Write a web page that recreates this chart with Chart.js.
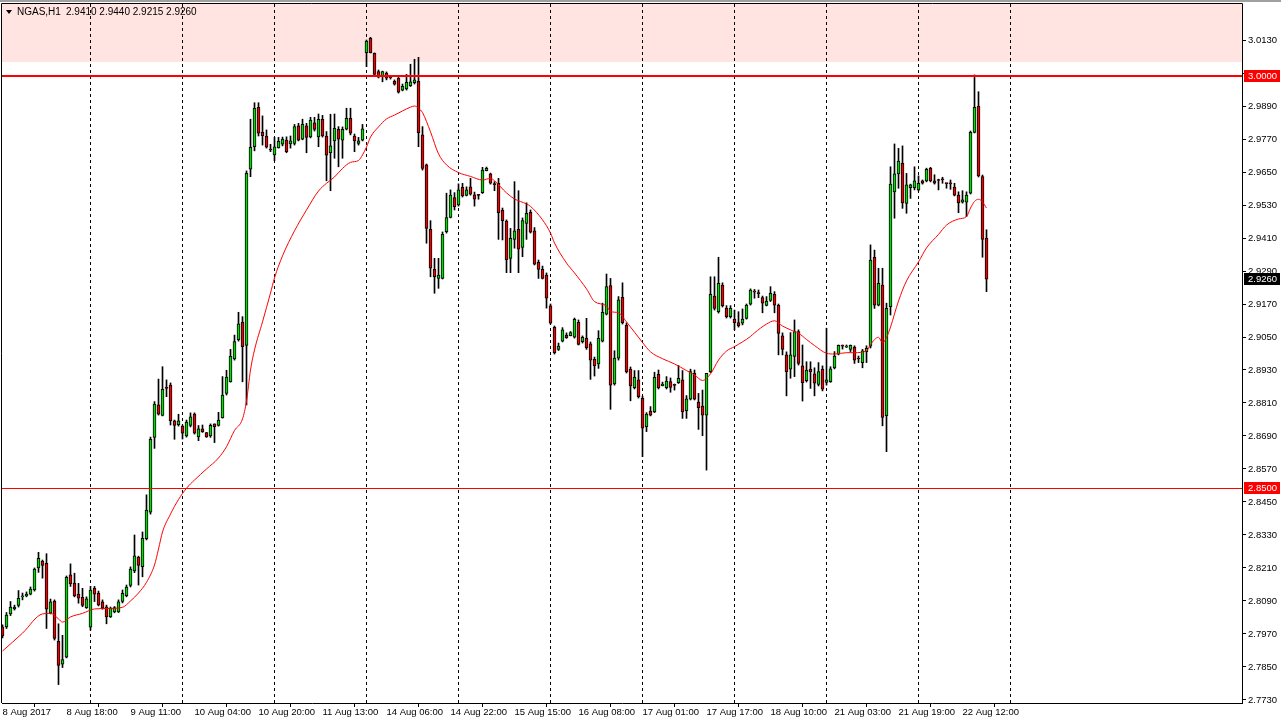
<!DOCTYPE html>
<html>
<head>
<meta charset="utf-8">
<title>NGAS,H1</title>
<script src="https://cdn.jsdelivr.net/npm/chart.js@4.4.0/dist/chart.umd.min.js"></script>
<style>
  html, body { margin: 0; padding: 0; background: #fff; overflow: hidden; }
  #wrap { position: relative; width: 1281px; height: 723px; }
</style>
</head>
<body>
<div id="wrap"><canvas id="chart" width="1281" height="723"></canvas></div>
<script>
// NGAS H1 candles (bar 0 = 8 Aug 2017)
const opens = [
  2.7996, 2.7996, 2.8043, 2.8061, 2.8074, 2.8105, 2.8108, 2.8115, 2.8130, 2.8210,
  2.8235, 2.8227, 2.8046, 2.8090, 2.7943, 2.7860, 2.7886, 2.8185, 2.8155, 2.8115,
  2.8103, 2.8066, 2.7995, 2.8136, 2.8119, 2.8087, 2.8069, 2.8032, 2.8050, 2.8050,
  2.8088, 2.8109, 2.8147, 2.8199, 2.8249, 2.8215, 2.8317, 2.8413, 2.8685, 2.8803,
  2.8765, 2.8865, 2.8875, 2.8745, 2.8731, 2.8726, 2.8690, 2.8728, 2.8770, 2.8687,
  2.8716, 2.8702, 2.8690, 2.8734, 2.8728, 2.8756, 2.8845, 2.8887, 2.8970, 2.9040,
  2.9104, 2.9019, 2.9660, 2.9742, 2.9885, 2.9794, 2.9781, 2.9733, 2.9712, 2.9738,
  2.9751, 2.9766, 2.9752, 2.9754, 2.9818, 2.9769, 2.9818, 2.9778, 2.9829, 2.9778,
  2.9842, 2.9781, 2.9720, 2.9763, 2.9805, 2.9766, 2.9806, 2.9845, 2.9781, 2.9754,
  2.9766, 3.0084, 3.0136, 3.0082, 3.0015, 2.9997, 3.0010, 2.9995, 2.9980, 2.9991,
  2.9948, 2.9952, 2.9964, 2.9975, 2.9980, 2.9785, 2.9676, 2.9442, 2.9296, 2.9263,
  2.9263, 2.9433, 2.9485, 2.9557, 2.9530, 2.9594, 2.9565, 2.9596, 2.9567, 2.9566,
  2.9575, 2.9655, 2.9643, 2.9608, 2.9609, 2.9512, 2.9472, 2.9336, 2.9405, 2.9442,
  2.9376, 2.9463, 2.9503, 2.9436, 2.9322, 2.9296, 2.9275, 2.9163, 2.9085, 2.9005,
  2.9035, 2.9057, 2.9055, 2.9049, 2.9103, 2.9033, 2.9045, 2.9025, 2.8969, 2.8952,
  2.9035, 2.9133, 2.9237, 2.8879, 2.8973, 2.9194, 2.9092, 2.8933, 2.8866, 2.8894,
  2.8827, 2.8724, 2.8781, 2.8778, 2.8914, 2.8873, 2.8866, 2.8888, 2.8877, 2.8884,
  2.8894, 2.8782, 2.8824, 2.8918, 2.8813, 2.8799, 2.8766, 2.8924, 2.9199, 2.9142,
  2.9239, 2.9154, 2.9124, 2.9115, 2.9102, 2.9100, 2.9118, 2.9169, 2.9215, 2.9210,
  2.9193, 2.9165, 2.9183, 2.9205, 2.9165, 2.9054, 2.8985, 2.8933, 2.8979, 2.9070,
  2.8945, 2.8891, 2.8933, 2.8916, 2.8878, 2.8933, 2.8885, 2.8888, 2.8938, 2.8988,
  2.9019, 2.9013, 2.9005, 2.9013, 2.8972, 2.8957, 2.8997, 2.9017, 2.9340, 2.9166,
  2.9239, 2.8764, 2.9160, 2.9578, 2.9643, 2.9682, 2.9536, 2.9593, 2.9593, 2.9585,
  2.9618, 2.9618, 2.9663, 2.9618, 2.9621, 2.9624, 2.9609, 2.9609, 2.9595, 2.9566,
  2.9540, 2.9540, 2.9573, 2.9794, 2.9890, 2.9633, 2.9410
];
const highs = [
  2.8003, 2.8048, 2.8088, 2.8075, 2.8128, 2.8119, 2.8123, 2.8141, 2.8210, 2.8267,
  2.8239, 2.8262, 2.8097, 2.8094, 2.8007, 2.7965, 2.8181, 2.8225, 2.8191, 2.8154,
  2.8136, 2.8105, 2.8143, 2.8143, 2.8126, 2.8094, 2.8075, 2.8068, 2.8070, 2.8094,
  2.8130, 2.8148, 2.8214, 2.8330, 2.8253, 2.8341, 2.8476, 2.8686, 2.8815, 2.8897,
  2.8942, 2.8894, 2.8883, 2.8748, 2.8769, 2.8730, 2.8748, 2.8774, 2.8774, 2.8728,
  2.8730, 2.8703, 2.8734, 2.8734, 2.8776, 2.8906, 2.8929, 2.9005, 2.9057, 2.9140,
  2.9124, 2.9654, 2.9842, 2.9902, 2.9902, 2.9854, 2.9803, 2.9751, 2.9776, 2.9776,
  2.9777, 2.9778, 2.9781, 2.9823, 2.9827, 2.9842, 2.9827, 2.9849, 2.9849, 2.9861,
  2.9856, 2.9797, 2.9860, 2.9861, 2.9815, 2.9814, 2.9882, 2.9882, 2.9788, 2.9776,
  2.9823, 3.0130, 3.0140, 3.0083, 3.0021, 3.0017, 3.0014, 3.0000, 2.9985, 2.9996,
  2.9970, 3.0005, 3.0042, 3.0060, 3.0067, 2.9815, 2.9679, 2.9473, 2.9336, 2.9336,
  2.9432, 2.9573, 2.9585, 2.9575, 2.9607, 2.9609, 2.9596, 2.9627, 2.9577, 2.9569,
  2.9667, 2.9668, 2.9646, 2.9615, 2.9627, 2.9519, 2.9476, 2.9445, 2.9615, 2.9582,
  2.9483, 2.9538, 2.9512, 2.9448, 2.9330, 2.9308, 2.9283, 2.9170, 2.9090, 2.9028,
  2.9084, 2.9065, 2.9070, 2.9119, 2.9112, 2.9054, 2.9118, 2.9032, 2.8977, 2.9073,
  2.9173, 2.9279, 2.9263, 2.9000, 2.9197, 2.9247, 2.9101, 2.8941, 2.8928, 2.8928,
  2.8835, 2.8775, 2.8797, 2.8922, 2.8930, 2.8886, 2.8906, 2.8901, 2.8879, 2.8946,
  2.8928, 2.8837, 2.8933, 2.8930, 2.8845, 2.8857, 2.8918, 2.9269, 2.9269, 2.9340,
  2.9247, 2.9164, 2.9164, 2.9148, 2.9142, 2.9152, 2.9170, 2.9225, 2.9223, 2.9221,
  2.9199, 2.9197, 2.9233, 2.9215, 2.9170, 2.9065, 2.8996, 2.9066, 2.9112, 2.9076,
  2.9021, 2.8960, 2.8960, 2.8938, 2.8957, 2.8945, 2.9082, 2.8942, 2.8997, 2.9021,
  2.9021, 2.9021, 2.9021, 2.9018, 2.8981, 2.9005, 2.9018, 2.9385, 2.9366, 2.9300,
  2.9300, 2.9173, 2.9669, 2.9752, 2.9736, 2.9745, 2.9645, 2.9606, 2.9669, 2.9636,
  2.9621, 2.9664, 2.9667, 2.9640, 2.9624, 2.9631, 2.9609, 2.9621, 2.9609, 2.9578,
  2.9582, 2.9578, 2.9799, 3.0003, 2.9942, 2.9639, 2.9440
];
const lows = [
  2.7956, 2.7990, 2.8037, 2.8057, 2.8068, 2.8094, 2.8105, 2.8112, 2.8126, 2.8194,
  2.8173, 2.7990, 2.8043, 2.7948, 2.7786, 2.7848, 2.7883, 2.8143, 2.8105, 2.8082,
  2.8069, 2.8063, 2.7984, 2.8088, 2.8072, 2.8060, 2.8007, 2.8030, 2.8047, 2.8048,
  2.8083, 2.8105, 2.8141, 2.8193, 2.8148, 2.8178, 2.8312, 2.8406, 2.8645, 2.8766,
  2.8763, 2.8833, 2.8730, 2.8678, 2.8726, 2.8679, 2.8686, 2.8723, 2.8697, 2.8673,
  2.8703, 2.8685, 2.8685, 2.8666, 2.8726, 2.8755, 2.8839, 2.8886, 2.8966, 2.9035,
  2.8887, 2.8803, 2.9633, 2.9727, 2.9781, 2.9748, 2.9737, 2.9724, 2.9691, 2.9737,
  2.9745, 2.9720, 2.9737, 2.9748, 2.9763, 2.9767, 2.9720, 2.9774, 2.9799, 2.9742,
  2.9777, 2.9618, 2.9582, 2.9700, 2.9669, 2.9700, 2.9803, 2.9785, 2.9724, 2.9748,
  2.9763, 3.0033, 3.0083, 3.0003, 2.9992, 2.9978, 2.9985, 2.9988, 2.9966, 2.9937,
  2.9945, 2.9948, 2.9961, 2.9970, 2.9742, 2.9657, 2.9391, 2.9269, 2.9209, 2.9227,
  2.9261, 2.9428, 2.9483, 2.9512, 2.9526, 2.9559, 2.9563, 2.9566, 2.9526, 2.9551,
  2.9572, 2.9654, 2.9606, 2.9582, 2.9405, 2.9403, 2.9284, 2.9284, 2.9373, 2.9284,
  2.9342, 2.9405, 2.9428, 2.9312, 2.9263, 2.9261, 2.9155, 2.9097, 2.8988, 2.9001,
  2.9032, 2.9045, 2.9054, 2.9046, 2.9021, 2.9028, 2.9005, 2.8896, 2.8908, 2.8936,
  2.9032, 2.9130, 2.8787, 2.8875, 2.8966, 2.9097, 2.8919, 2.8818, 2.8861, 2.8828,
  2.8615, 2.8706, 2.8763, 2.8775, 2.8861, 2.8872, 2.8861, 2.8849, 2.8857, 2.8881,
  2.8754, 2.8754, 2.8821, 2.8821, 2.8714, 2.8691, 2.8566, 2.8921, 2.9148, 2.9137,
  2.9159, 2.9119, 2.9119, 2.9076, 2.9086, 2.9094, 2.9115, 2.9166, 2.9191, 2.9193,
  2.9138, 2.9163, 2.9179, 2.9138, 2.8985, 2.8985, 2.8836, 2.8900, 2.8906, 2.8948,
  2.8817, 2.8886, 2.8863, 2.8836, 2.8872, 2.8854, 2.8875, 2.8885, 2.8934, 2.8985,
  2.9006, 2.9012, 2.8997, 2.8954, 2.8957, 2.8938, 2.8957, 2.9010, 2.9154, 2.9163,
  2.8727, 2.8633, 2.9130, 2.9482, 2.9591, 2.9518, 2.9500, 2.9554, 2.9585, 2.9581,
  2.9606, 2.9614, 2.9614, 2.9606, 2.9585, 2.9609, 2.9591, 2.9587, 2.9563, 2.9502,
  2.9537, 2.9488, 2.9570, 2.9792, 2.9632, 2.9340, 2.9215
];
const closes = [
  2.7963, 2.8039, 2.8068, 2.8068, 2.8100, 2.8108, 2.8115, 2.8133, 2.8206, 2.8245,
  2.8219, 2.8060, 2.8087, 2.7954, 2.7856, 2.7877, 2.8176, 2.8152, 2.8108, 2.8100,
  2.8074, 2.8098, 2.8130, 2.8115, 2.8076, 2.8064, 2.8032, 2.8064, 2.8066, 2.8087,
  2.8118, 2.8141, 2.8206, 2.8254, 2.8219, 2.8318, 2.8421, 2.8678, 2.8806, 2.8769,
  2.8860, 2.8863, 2.8746, 2.8728, 2.8745, 2.8700, 2.8741, 2.8760, 2.8700, 2.8716,
  2.8706, 2.8687, 2.8729, 2.8724, 2.8748, 2.8839, 2.8904, 2.8980, 2.9033, 2.9098,
  2.9015, 2.9645, 2.9740, 2.9882, 2.9791, 2.9782, 2.9740, 2.9730, 2.9742, 2.9762,
  2.9770, 2.9724, 2.9763, 2.9815, 2.9766, 2.9823, 2.9776, 2.9839, 2.9805, 2.9842,
  2.9781, 2.9711, 2.9745, 2.9809, 2.9769, 2.9805, 2.9845, 2.9791, 2.9763, 2.9763,
  2.9807, 3.0126, 3.0084, 3.0005, 2.9995, 3.0015, 2.9991, 2.9993, 2.9969, 2.9940,
  2.9962, 2.9976, 2.9978, 2.9985, 2.9793, 2.9663, 2.9445, 2.9300, 2.9269, 2.9275,
  2.9423, 2.9484, 2.9566, 2.9524, 2.9585, 2.9563, 2.9585, 2.9569, 2.9551, 2.9565,
  2.9657, 2.9663, 2.9609, 2.9604, 2.9502, 2.9473, 2.9330, 2.9409, 2.9436, 2.9369,
  2.9473, 2.9500, 2.9431, 2.9315, 2.9296, 2.9263, 2.9191, 2.9100, 2.8993, 2.9017,
  2.9076, 2.9048, 2.9066, 2.9114, 2.9023, 2.9049, 2.9011, 2.8966, 2.8945, 2.9045,
  2.9140, 2.9233, 2.8875, 2.8973, 2.9185, 2.9102, 2.8924, 2.8872, 2.8904, 2.8833,
  2.8718, 2.8770, 2.8766, 2.8903, 2.8866, 2.8879, 2.8890, 2.8867, 2.8874, 2.8900,
  2.8778, 2.8825, 2.8924, 2.8824, 2.8793, 2.8766, 2.8918, 2.9205, 2.9154, 2.9245,
  2.9164, 2.9124, 2.9154, 2.9102, 2.9091, 2.9115, 2.9166, 2.9221, 2.9213, 2.9208,
  2.9173, 2.9181, 2.9209, 2.9166, 2.9063, 2.9005, 2.8924, 2.8985, 2.9070, 2.8954,
  2.8884, 2.8930, 2.8923, 2.8882, 2.8924, 2.8860, 2.8894, 2.8934, 2.8981, 2.9020,
  2.9017, 2.9014, 2.9020, 2.8966, 2.8970, 2.9000, 2.9009, 2.9330, 2.9166, 2.9245,
  2.8758, 2.9154, 2.9606, 2.9643, 2.9690, 2.9538, 2.9603, 2.9603, 2.9618, 2.9609,
  2.9609, 2.9660, 2.9618, 2.9609, 2.9619, 2.9622, 2.9608, 2.9607, 2.9566, 2.9538,
  2.9549, 2.9566, 2.9794, 2.9885, 2.9636, 2.9405, 2.9260
];

// moving average line at these bars
const maBars = [
  0, 5, 10, 12, 14, 15, 17, 20, 23, 27, 30, 32, 34, 36, 38, 39, 40, 42, 44, 46,
  48, 51, 54, 56, 58, 60, 61, 62, 63, 65, 67, 68, 70, 73, 76, 79, 81, 83, 85, 87,
  89, 90, 91, 92, 94, 96, 98, 100, 102, 103, 104, 105, 107, 109, 111, 114, 117, 120, 122, 123,
  126, 128, 131, 132, 135, 137, 138, 141, 143, 146, 148, 151, 152, 154, 156, 160, 162, 165, 168, 171,
  173, 175, 177, 179, 181, 183, 187, 188, 191, 193, 195, 197, 199, 201, 203, 206, 208, 211, 213, 216,
  217, 219, 220, 221, 222, 224, 226, 229, 231, 234, 236, 239, 241, 242, 243, 244, 245, 246
];
const maValues = [
  2.7908, 2.7973, 2.8043, 2.8045, 2.8025, 2.8013, 2.8032, 2.8045, 2.8061, 2.8063,
  2.8067, 2.8090, 2.8119, 2.8158, 2.8221, 2.8279, 2.8341, 2.8406, 2.8459, 2.8500,
  2.8530, 2.8570, 2.8610, 2.8651, 2.8710, 2.8752, 2.8817, 2.8930, 2.9003, 2.9105,
  2.9210, 2.9265, 2.9345, 2.9436, 2.9512, 2.9581, 2.9609, 2.9632, 2.9663, 2.9685,
  2.9692, 2.9712, 2.9741, 2.9777, 2.9814, 2.9843, 2.9857, 2.9872, 2.9886, 2.9890,
  2.9882, 2.9866, 2.9796, 2.9716, 2.9676, 2.9648, 2.9634, 2.9621, 2.9627, 2.9618,
  2.9574, 2.9552, 2.9534, 2.9525, 2.9476, 2.9428, 2.9392, 2.9319, 2.9283, 2.9225,
  2.9179, 2.9163, 2.9143, 2.9138, 2.9105, 2.9030, 2.8996, 2.8971, 2.8952, 2.8928,
  2.8912, 2.8892, 2.8916, 2.8966, 2.8999, 2.9015, 2.9052, 2.9065, 2.9097, 2.9109,
  2.9090, 2.9076, 2.9064, 2.9041, 2.9019, 2.8991, 2.8988, 2.8993, 2.8993, 2.8999,
  2.9023, 2.9049, 2.9029, 2.9048, 2.9086, 2.9181, 2.9254, 2.9323, 2.9374, 2.9423,
  2.9457, 2.9479, 2.9488, 2.9519, 2.9543, 2.9551, 2.9541, 2.9519
];

// time axis labels every 16 bars, day separators every 23 bars
const tickBars = [0, 16, 32, 48, 64, 80, 96, 112, 128, 144, 160, 176, 192, 208, 224, 240];
const tickLabels = [
  "8 Aug 2017", "8 Aug 18:00", "9 Aug 11:00", "10 Aug 04:00", "10 Aug 20:00", "11 Aug 13:00",
  "14 Aug 06:00", "14 Aug 22:00", "15 Aug 15:00", "16 Aug 08:00", "17 Aug 01:00", "17 Aug 17:00",
  "18 Aug 10:00", "21 Aug 03:00", "21 Aug 19:00", "22 Aug 12:00"
];
const separatorBars = [22, 45, 68, 91, 114, 137, 160, 183, 206, 229, 252];

const priceTicks = [
  2.7730, 2.7850, 2.7970, 2.8090, 2.8210, 2.8330, 2.8450, 2.8570, 2.8690, 2.8810,
  2.8930, 2.9050, 2.9170, 2.9290, 2.9410, 2.9530, 2.9650, 2.9770, 2.9890, 3.0010, 3.0130
];
const zone = [3.0050, 3.0300];      // shaded band at the top
const levelHigh = 3.0000;
const levelLow = 2.8500;
const lastPrice = 2.9260;

const FONT = "'Liberation Sans', Arial, sans-serif";
const UP = '#00e000';
const DOWN = '#ee0000';

const bars = opens.map((_, i) => i);

const decor = {
  id: 'decor',
  beforeDatasetsDraw(chart) {
    const { ctx, chartArea: a, scales: { x, y } } = chart;
    ctx.save();
    const zt = Math.max(a.top, y.getPixelForValue(zone[1]));
    const zb = y.getPixelForValue(zone[0]);
    ctx.fillStyle = '#ffe4e1';
    ctx.fillRect(a.left, zt, a.right - a.left, zb - zt);
    ctx.strokeStyle = '#000';
    ctx.lineWidth = 1;
    ctx.setLineDash([3, 3]);
    separatorBars.forEach(b => {
      const px = Math.floor(x.getPixelForValue(b)) + 0.5;
      ctx.beginPath();
      ctx.moveTo(px, a.top);
      ctx.lineTo(px, a.bottom);
      ctx.stroke();
    });
    ctx.restore();
  },
  afterDatasetsDraw(chart) {
    const { ctx, chartArea: a, scales: { y } } = chart;
    ctx.save();
    ctx.strokeStyle = '#ff0000';
    ctx.lineWidth = 2;
    let py = Math.round(y.getPixelForValue(levelHigh));
    ctx.beginPath(); ctx.moveTo(a.left, py); ctx.lineTo(a.right, py); ctx.stroke();
    ctx.lineWidth = 1;
    py = Math.floor(y.getPixelForValue(levelLow)) + 0.5;
    ctx.beginPath(); ctx.moveTo(a.left, py); ctx.lineTo(a.right, py); ctx.stroke();
    ctx.restore();
  },
  afterDraw(chart) {
    const { ctx, chartArea: a, scales: { y } } = chart;
    ctx.save();
    // window edge and chart frame
    ctx.fillStyle = '#a0a0a0';
    ctx.fillRect(0, 0, chart.width, 2);
    ctx.strokeStyle = '#000';
    ctx.lineWidth = 1;
    ctx.beginPath();
    ctx.moveTo(1.5, a.bottom); ctx.lineTo(1.5, 3.5); ctx.lineTo(a.right + 0.5, 3.5); ctx.lineTo(a.right + 0.5, a.bottom);
    ctx.stroke();

    // price tags on the axis
    const tag = (v, bg) => {
      const py = Math.round(y.getPixelForValue(v));
      ctx.fillStyle = bg;
      ctx.fillRect(a.right + 2, py - 6, 36, 12);
      ctx.fillStyle = '#fff';
      ctx.font = '9.5px ' + FONT;
      ctx.textBaseline = 'middle';
      ctx.textAlign = 'left';
      ctx.fillText(v.toFixed(4), a.right + 6, py + 0.5);
    };
    tag(levelHigh, '#ff0000');
    tag(levelLow, '#ff0000');
    tag(lastPrice, '#000000');

    // header
    ctx.fillStyle = '#000';
    ctx.beginPath();
    ctx.moveTo(6, 10); ctx.lineTo(12, 10); ctx.lineTo(9, 14); ctx.closePath();
    ctx.fill();
    ctx.font = '10px ' + FONT;
    ctx.textBaseline = 'middle';
    ctx.textAlign = 'left';
    const n = opens.length - 1;
    ctx.fillText('NGAS,H1', 17, 12.5);
    ctx.fillText([opens[n], highs[n], lows[n], closes[n]].map(v => v.toFixed(4)).join(' '), 66, 12.5);
    ctx.restore();
  }
};

new Chart(document.getElementById('chart'), {
  type: 'bar',
  data: {
    datasets: [
      {
        type: 'line',
        label: 'MA',
        data: maBars.map((b, i) => ({ x: b, y: maValues[i] })),
        borderColor: '#ff0000',
        borderWidth: 1,
        pointRadius: 0,
        cubicInterpolationMode: 'monotone',
        order: 0
      },
      {
        label: 'body',
        data: bars.map(i => ({ x: i, y: [opens[i], closes[i]] })),
        backgroundColor: bars.map(i => closes[i] >= opens[i] ? UP : DOWN),
        borderColor: '#000',
        borderWidth: 1,
        borderSkipped: false,
        barThickness: 3,
        minBarLength: 1,
        grouped: false,
        order: 1
      },
      {
        label: 'wick',
        data: bars.map(i => ({ x: i, y: [lows[i], highs[i]] })),
        backgroundColor: '#000',
        barThickness: 1,
        grouped: false,
        order: 2
      }
    ]
  },
  options: {
    responsive: false,
    animation: false,
    layout: { padding: { left: 2, top: 4, right: 0, bottom: 0 } },
    plugins: { legend: { display: false }, tooltip: { enabled: false } },
    scales: {
      x: {
        type: 'linear',
        min: -0.125,
        max: 309.875,
        offset: false,
        afterBuildTicks: s => { s.ticks = tickBars.map(v => ({ value: v })); },
        afterFit: s => { s.height = 20; s.paddingLeft = 0; s.paddingRight = 0; },
        grid: { drawOnChartArea: false, drawTicks: true, tickLength: 4, color: '#000' },
        border: { display: true, color: '#000' },
        ticks: {
          autoSkip: false,
          maxRotation: 0,
          align: 'start',
          padding: 0,
          color: '#000',
          font: { family: FONT, size: 9.5 },
          callback: (v, i) => tickLabels[i]
        }
      },
      y: {
        position: 'right',
        min: 2.7719,
        max: 3.0261,
        afterBuildTicks: s => { s.ticks = priceTicks.map(v => ({ value: v })); },
        afterFit: s => { s.width = 39; s.paddingTop = 0; s.paddingBottom = 0; },
        grid: { drawOnChartArea: false, drawTicks: true, tickLength: 4, color: '#000' },
        border: { display: true, color: '#000' },
        ticks: {
          padding: 2,
          color: '#000',
          font: { family: FONT, size: 9.5 },
          callback: v => v.toFixed(4)
        }
      }
    }
  },
  plugins: [decor]
});
</script>
</body>
</html>
